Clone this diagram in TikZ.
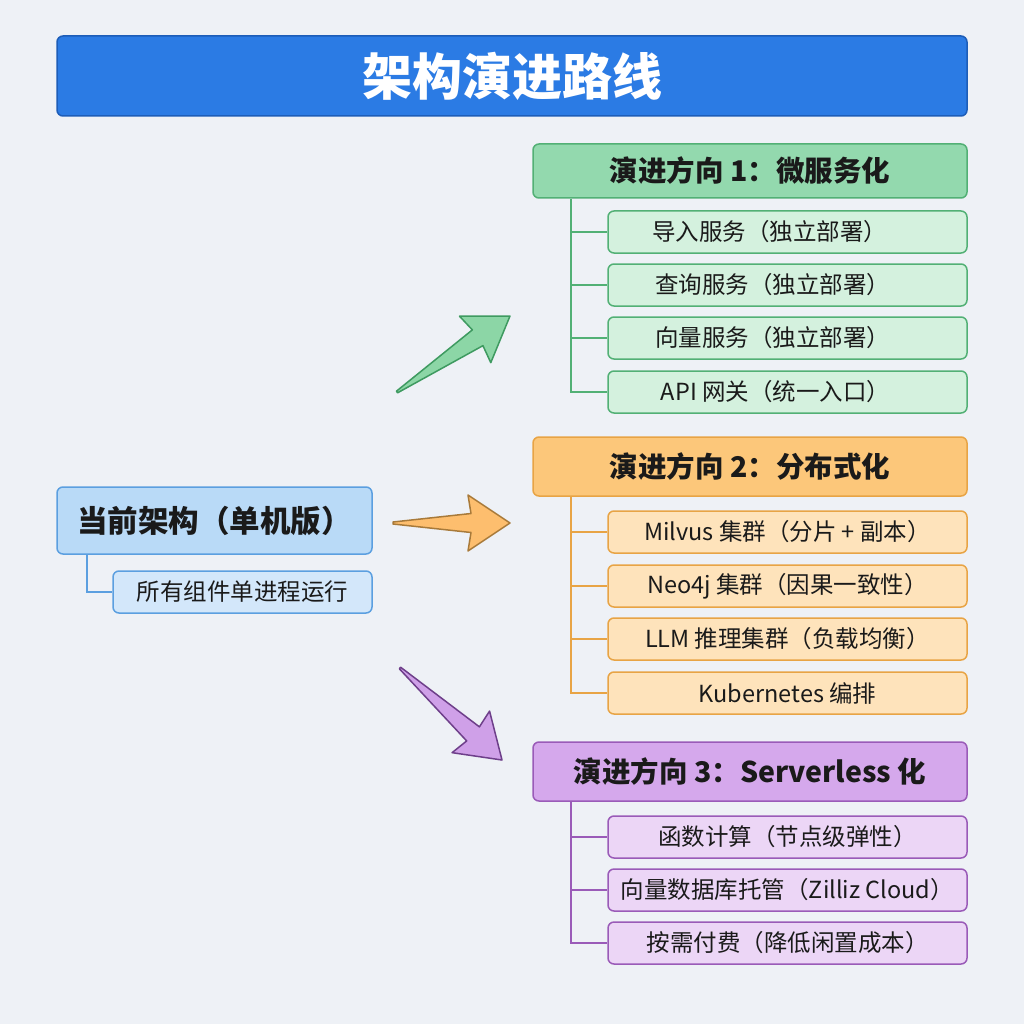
\documentclass[tikz,border=0pt]{standalone}
\usepackage{fontspec}
\setmainfont{Noto Sans CJK SC}
\usetikzlibrary{calc}

\definecolor{bgcol}{HTML}{EEF1F6}
\definecolor{txtcol}{HTML}{1A1A1A}
\definecolor{ttlfill}{HTML}{2B7BE4}
\definecolor{ttldraw}{HTML}{1D5DB8}
\definecolor{curfill}{HTML}{B9DAF7}
\definecolor{cursub}{HTML}{D3E7FA}
\definecolor{curdraw}{HTML}{5B9FE0}
\definecolor{grnhead}{HTML}{93D9AE}
\definecolor{grnitem}{HTML}{D4F1DE}
\definecolor{grndraw}{HTML}{52B075}
\definecolor{orghead}{HTML}{FCC77A}
\definecolor{orgitem}{HTML}{FEE3BB}
\definecolor{orgdraw}{HTML}{E8A445}
\definecolor{prphead}{HTML}{D5A8EC}
\definecolor{prpitem}{HTML}{ECD6F6}
\definecolor{prpdraw}{HTML}{9A5BB8}
\definecolor{grnarrow}{HTML}{8CD6A6}
\definecolor{grnarrowd}{HTML}{3E9A60}
\definecolor{orgarrow}{HTML}{FDBE6E}
\definecolor{orgarrowd}{HTML}{A87A3A}
\definecolor{prparrow}{HTML}{CFA0E8}
\definecolor{prparrowd}{HTML}{6E3F8A}

\begin{document}
\begin{tikzpicture}[x=1pt,y=-1pt,
  box/.style={rectangle,rounded corners=6pt,line width=1.5pt,inner sep=0pt,text=txtcol},
  head/.style={box,minimum width=434pt,font=\bfseries\fontsize{28.5}{31}\selectfont},
  item/.style={box,minimum width=359pt,minimum height=42pt,font=\fontsize{23.5}{26}\selectfont},
  tree/.style={line width=1.8pt}]
\useasboundingbox (0,0) rectangle (1024,1024);
\fill[bgcol] (0,0) rectangle (1024,1024);

% title
\node[box,fill=ttlfill,draw=ttldraw,minimum width=910pt,minimum height=80pt,text=white,
  font=\bfseries\fontsize{50}{52}\selectfont] (title) at (512,76) {架构演进路线};

% current architecture
\node[box,fill=curfill,draw=curdraw,minimum width=315pt,minimum height=67pt,
  font=\bfseries\fontsize{30.5}{33}\selectfont] (cur) at (214.5,520.5) {当前架构（单机版）};
\node[box,fill=cursub,draw=curdraw,minimum width=259pt,minimum height=42pt,
  font=\fontsize{23.5}{26}\selectfont] (cur1) at (242.5,592) {所有组件单进程运行};
\draw[tree,curdraw] ($(cur.south west)+(31,0)$) |- (cur1.west);

% direction 1
\node[head,fill=grnhead,draw=grndraw,minimum height=54pt] (d1) at (750,171) {演进方向 1：微服务化};
\node[item,fill=grnitem,draw=grndraw] (d1a) at (787.5,232) {\hspace*{-36pt}导入服务（独立部署）};
\node[item,fill=grnitem,draw=grndraw] (d1b) at (787.5,285) {\hspace*{-30pt}查询服务（独立部署）};
\node[item,fill=grnitem,draw=grndraw] (d1c) at (787.5,338) {\hspace*{-30pt}向量服务（独立部署）};
\node[item,fill=grnitem,draw=grndraw] (d1d) at (787.5,392) {\hspace*{-24pt}API 网关（统一入口）};
\coordinate (t1) at ($(d1.south west)+(39,0)$);
\draw[tree,grndraw] (t1) |- (d1d.west);
\foreach \n in {d1a,d1b,d1c} \draw[tree,grndraw] (t1 |- \n.west) -- (\n.west);

% direction 2
\node[head,fill=orghead,draw=orgdraw,minimum height=59pt] (d2) at (750,466.5) {演进方向 2：分布式化};
\node[item,fill=orgitem,draw=orgdraw] (d2a) at (787.5,532) {Milvus 集群（分片 + 副本）};
\node[item,fill=orgitem,draw=orgdraw] (d2b) at (787.5,586) {Neo4j 集群（因果一致性）};
\node[item,fill=orgitem,draw=orgdraw] (d2c) at (787.5,639) {LLM 推理集群（负载均衡）};
\node[item,fill=orgitem,draw=orgdraw] (d2d) at (787.5,693) {Kubernetes 编排};
\coordinate (t2) at ($(d2.south west)+(39,0)$);
\draw[tree,orgdraw] (t2) |- (d2d.west);
\foreach \n in {d2a,d2b,d2c} \draw[tree,orgdraw] (t2 |- \n.west) -- (\n.west);

% direction 3
\node[head,fill=prphead,draw=prpdraw,minimum height=59pt] (d3) at (750,771.5) {演进方向 3：Serverless 化};
\node[item,fill=prpitem,draw=prpdraw] (d3a) at (787.5,837) {函数计算（节点级弹性）};
\node[item,fill=prpitem,draw=prpdraw] (d3b) at (787.5,890) {向量数据库托管（Zilliz Cloud）};
\node[item,fill=prpitem,draw=prpdraw] (d3c) at (787.5,943) {按需付费（降低闲置成本）};
\coordinate (t3) at ($(d3.south west)+(39,0)$);
\draw[tree,prpdraw] (t3) |- (d3c.west);
\foreach \n in {d3a,d3b} \draw[tree,prpdraw] (t3 |- \n.west) -- (\n.west);

% big arrows
\coordinate (ga) at (397,392);
\coordinate (gb) at (510,316);
\coordinate (oa) at (393,523);
\coordinate (ob) at (510,523);
\coordinate (pa) at (400,668);
\coordinate (pb) at (502,760);
\foreach \a/\b/\f/\d in {ga/gb/grnarrow/grnarrowd,oa/ob/orgarrow/orgarrowd,pa/pb/prparrow/prparrowd}{
  \coordinate (h) at ($(\b)!39pt!(\a)$);
  \coordinate (k) at ($(\b)!42pt!(\a)$);
  \filldraw[fill=\f,draw=\d,line width=1.5pt,line join=round]
    ($(\a)!1pt!90:(\b)$) -- ($(h)!9.5pt!90:(\b)$) -- ($(k)!28pt!90:(\b)$) -- (\b)
    -- ($(k)!28pt!-90:(\b)$) -- ($(h)!9.5pt!-90:(\b)$) -- ($(\a)!1pt!-90:(\b)$) -- cycle;
}
\end{tikzpicture}
\end{document}
